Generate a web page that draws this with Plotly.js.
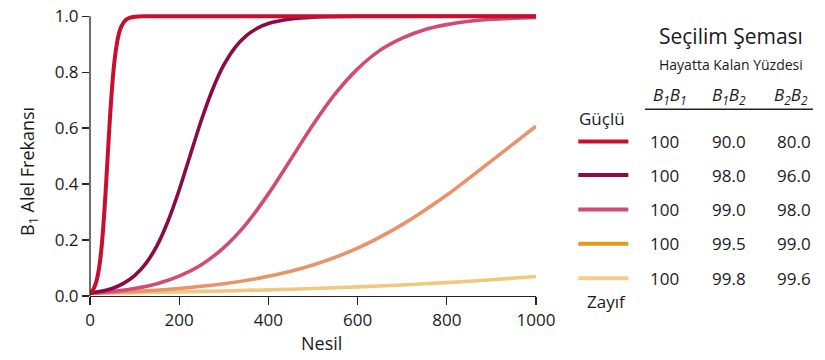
<!DOCTYPE html>
<html>
<head>
<meta charset="utf-8">
<script src="https://cdn.plot.ly/plotly-3.0.1.min.js"></script>
<style>html,body{margin:0;padding:0;background:#fff;}#chart{width:825px;height:360px;}</style>
</head>
<body>
<div id="chart"></div>
<script>
// generations (x) and B1 allele frequency (y)
const gens1 = [0,5,10,15,20,25,30,35,40,45,50,55,60,65,70,80,90,100,120,150,1000];
const p1 = [0.010,0.018,0.032,0.056,0.096,0.159,0.252,0.372,0.509,0.643,0.756,0.842,0.900,0.939,0.963,0.987,0.995,0.998,1.0,1.0,1.0];
const gens2 = [0,25,50,75,100,125,150,175,200,225,250,275,300,325,350,375,400,450,500,600,700,1000];
const p2 = [0.010,0.017,0.027,0.045,0.073,0.116,0.179,0.268,0.379,0.505,0.630,0.739,0.826,0.888,0.930,0.957,0.974,0.990,0.997,1.0,1.0,1.0];
const gens3 = [0,50,100,150,200,250,300,350,400,450,500,550,600,650,700,750,800,850,900,950,1000];
const p3 = [0.010,0.0165,0.027,0.044,0.071,0.112,0.173,0.257,0.365,0.488,0.612,0.723,0.812,0.878,0.922,0.952,0.970,0.982,0.989,0.993,0.996];
const gens4 = [0,100,200,300,400,500,600,700,800,900,1000];
const p4 = [0.010,0.0164,0.0269,0.0437,0.0703,0.111,0.171,0.255,0.361,0.483,0.607];
const gens5 = [0,100,200,300,400,500,600,700,800,900,1000];
const p5 = [0.010,0.0122,0.0149,0.0181,0.0220,0.0268,0.0326,0.0395,0.0479,0.0579,0.0699];

// selection scheme table (percent surviving)
const survB1B1 = [100,100,100,100,100];
const survB1B2 = [90.0,98.0,99.0,99.5,99.8];
const survB2B2 = [80.0,96.0,98.0,99.0,99.6];
const genotypeLabels = ["<i>B<sub>1</sub>B<sub>1</sub></i>","<i>B<sub>1</sub>B<sub>2</sub></i>","<i>B<sub>2</sub>B<sub>2</sub></i>"];
const xTicks = [0,200,400,600,800,1000];
const yTicks = [0,0.2,0.4,0.6,0.8,1.0];

const lineColors = ['#c8102e','#8b0c45','#d24b74','#e8936b','#f2c77f'];
const swatchColors = ['#c8102e','#8b0c45','#d24b74','#e39a25','#f3cd8e'];
const FONT = '"Open Sans", "Noto Sans", sans-serif';
const TXT = '#1a1a1a';

const series = [[gens1,p1],[gens2,p2],[gens3,p3],[gens4,p4],[gens5,p5]];
const traces = [];
for (let i = series.length - 1; i >= 0; i--) {
  traces.push({
    x: series[i][0], y: series[i][1], type: 'scatter', mode: 'lines',
    line: {color: lineColors[i], width: i === 0 ? 4 : 3.6, shape: 'spline', smoothing: 0.8},
    hoverinfo: 'skip', showlegend: false
  });
}

// paper-coordinate helpers (plot area: 90..536 px wide, 14..296 px tall)
const L = 90, W = 446, B = 296, H = 282;
const px = v => (v - L) / W;
const py = v => (B - v) / H;

const annotations = [];
function ann(text, x, y, size, extra) {
  annotations.push(Object.assign({text: text, x: px(x), y: py(y), xref: 'paper', yref: 'paper',
    showarrow: false, xanchor: 'center', yanchor: 'middle',
    font: {family: FONT, size: size, color: TXT}}, extra || {}));
}
ann('B<sub>1</sub> Alel Frekansı', 28, 171, 18, {textangle: -90});
ann('Nesil', 321, 343, 18);
ann('Seçilim Şeması', 731, 36, 21);
ann('Hayatta Kalan Yüzdesi', 731, 64, 14);
const headX = [670, 729, 791];
genotypeLabels.forEach((g, j) => ann(g, headX[j], 95, 17));
ann('Güçlü', 601.5, 118, 17);
ann('Zayıf', 606, 301.7, 17);
const rowY = [141.5, 175, 209.5, 243.7, 278.3];
const colX = [664, 729, 794];
const shapes = [
  {type: 'line', xref: 'paper', yref: 'y', x0: 0, x1: 0, y0: 0, y1: 1, line: {color: '#222', width: 1.3}},
  {type: 'line', xref: 'paper', yref: 'paper', x0: px(645), x1: px(813), y0: py(109.3), y1: py(109.3), line: {color: '#222', width: 1.5}}
];
rowY.forEach((ry, i) => {
  ann(String(survB1B1[i]), colX[0], ry, 17);
  ann(survB1B2[i].toFixed(1), colX[1], ry, 17);
  ann(survB2B2[i].toFixed(1), colX[2], ry, 17);
  shapes.push({type: 'line', xref: 'paper', yref: 'paper', x0: px(578.3), x1: px(628.3), y0: py(ry), y1: py(ry),
    line: {color: swatchColors[i], width: 4}});
});

const layout = {
  width: 825, height: 360,
  margin: {l: L, r: 825 - L - W, t: 14, b: 360 - B},
  paper_bgcolor: '#fff', plot_bgcolor: '#fff',
  font: {family: FONT, size: 17, color: TXT},
  xaxis: {range: [0, 1000], tickvals: xTicks, ticktext: xTicks.map(String), showgrid: false, zeroline: false,
    showline: true, linecolor: '#222', linewidth: 1.3, ticks: 'outside', ticklen: 8, tickwidth: 1.3, tickcolor: '#222',
    tickfont: {family: FONT, size: 17, color: TXT}, fixedrange: true},
  yaxis: {range: [0, 1.008], tickvals: yTicks, ticktext: yTicks.map(v => v.toFixed(1)), showgrid: false, zeroline: false,
    showline: false, ticks: 'outside', ticklen: 7, tickwidth: 1.3, tickcolor: '#222',
    tickfont: {family: FONT, size: 17, color: TXT}, fixedrange: true},
  annotations: annotations,
  shapes: shapes,
  showlegend: false
};

Plotly.newPlot('chart', traces, layout, {displayModeBar: false, staticPlot: true});
</script>
</body>
</html>
